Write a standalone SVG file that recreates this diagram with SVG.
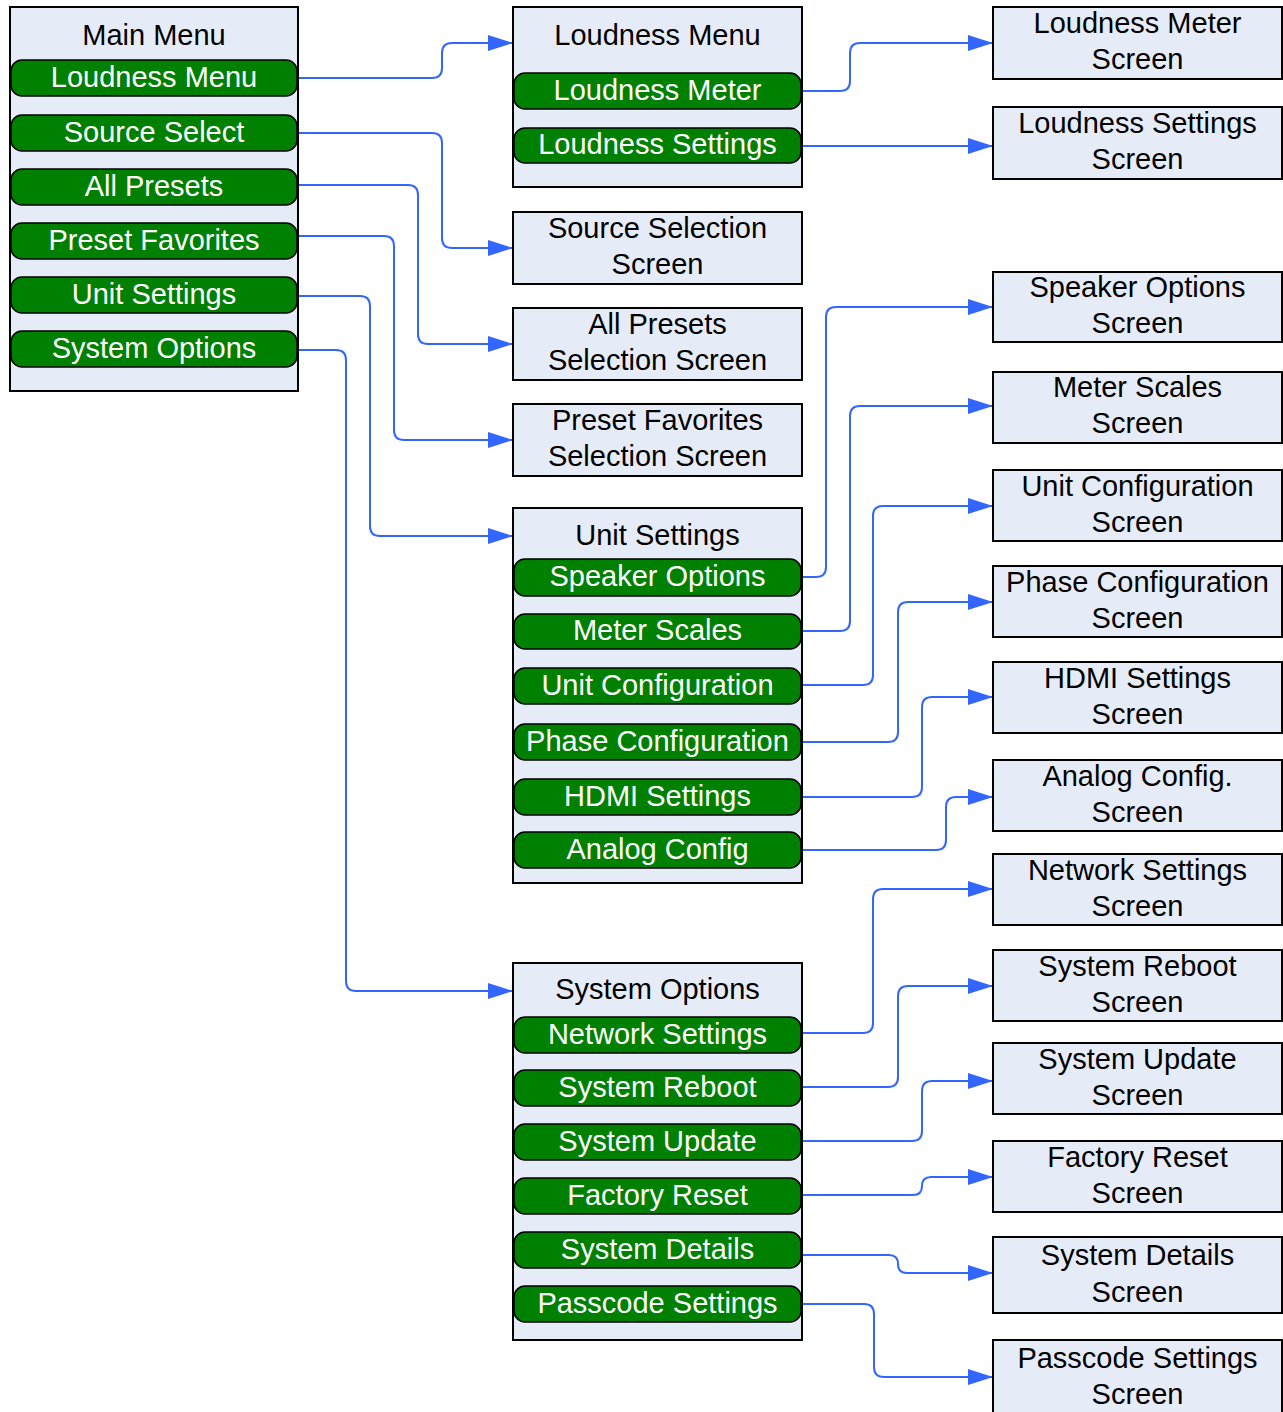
<svg xmlns="http://www.w3.org/2000/svg" width="1283" height="1412" viewBox="0 0 1283 1412">
<defs>
<style>
.box{fill:#e6ecf7;stroke:#000;stroke-width:2}
.btn{fill:#008000;stroke:#000;stroke-width:1.5}
.t{font-family:"Liberation Sans",Arial,sans-serif;font-size:29px;text-anchor:middle;fill:#000}
.bt{font-family:"Liberation Sans",Arial,sans-serif;font-size:29px;text-anchor:middle;fill:#fff}
.c{fill:none;stroke:#3366ff;stroke-width:2;marker-end:url(#ah)}
</style>
<marker id="ah" markerUnits="userSpaceOnUse" markerWidth="26" markerHeight="18" refX="25" refY="8" orient="auto">
<path d="M0,0 L25,8 L0,16 Z" fill="#3366ff"/>
</marker>
</defs>
<rect width="1283" height="1412" fill="#fff"/>

<g id="connectors">
<path class="c" d="M298,78 H432 Q442,78 442,68 V53 Q442,43 452,43 H513"/>
<path class="c" d="M298,133 H432 Q442,133 442,143 V238 Q442,248 452,248 H513"/>
<path class="c" d="M298,185 H408 Q418,185 418,195 V334 Q418,344 428,344 H513"/>
<path class="c" d="M298,236 H384 Q394,236 394,246 V430 Q394,440 404,440 H513"/>
<path class="c" d="M298,296 H360 Q370,296 370,306 V526 Q370,536 380,536 H513"/>
<path class="c" d="M298,350 H336 Q346,350 346,360 V981 Q346,991 356,991 H513"/>
<path class="c" d="M802,91 H840 Q850,91 850,81 V53 Q850,43 860,43 H993"/>
<path class="c" d="M802,146 H993"/>
<path class="c" d="M802,577 H816 Q826,577 826,567 V317 Q826,307 836,307 H993"/>
<path class="c" d="M802,631 H840 Q850,631 850,621 V416 Q850,406 860,406 H993"/>
<path class="c" d="M802,685 H863 Q873,685 873,675 V516 Q873,506 883,506 H993"/>
<path class="c" d="M802,742 H888 Q898,742 898,732 V612 Q898,602 908,602 H993"/>
<path class="c" d="M802,797 H912 Q922,797 922,787 V707 Q922,697 932,697 H993"/>
<path class="c" d="M802,850 H936 Q946,850 946,840 V807 Q946,797 956,797 H993"/>
<path class="c" d="M802,1033 H863 Q873,1033 873,1023 V899 Q873,889 883,889 H993"/>
<path class="c" d="M802,1087 H888 Q898,1087 898,1077 V996 Q898,986 908,986 H993"/>
<path class="c" d="M802,1141 H912 Q922,1141 922,1131 V1091 Q922,1081 932,1081 H993"/>
<path class="c" d="M802,1195 H913 Q922,1195 922,1186 Q922,1177 931,1177 H993"/>
<path class="c" d="M802,1255 H889 Q898,1255 898,1264 Q898,1273 907,1273 H993"/>
<path class="c" d="M802,1304 H864 Q874,1304 874,1314 V1367 Q874,1377 884,1377 H993"/>
</g>

<g id="main-menu">
<rect class="box" x="10" y="7" width="288" height="384"/>
<text class="t" x="154" y="45">Main Menu</text>
<rect class="btn" x="11" y="60" width="286" height="36" rx="11"/>
<text class="bt" x="154" y="87">Loudness Menu</text>
<rect class="btn" x="11" y="115" width="286" height="36" rx="11"/>
<text class="bt" x="154" y="142">Source Select</text>
<rect class="btn" x="11" y="169" width="286" height="36" rx="11"/>
<text class="bt" x="154" y="196">All Presets</text>
<rect class="btn" x="11" y="223" width="286" height="36" rx="11"/>
<text class="bt" x="154" y="250">Preset Favorites</text>
<rect class="btn" x="11" y="277" width="286" height="36" rx="11"/>
<text class="bt" x="154" y="304">Unit Settings</text>
<rect class="btn" x="11" y="331" width="286" height="36" rx="11"/>
<text class="bt" x="154" y="358">System Options</text>
</g>

<g id="loudness-menu">
<rect class="box" x="513" y="7" width="289" height="180"/>
<text class="t" x="657.5" y="45">Loudness Menu</text>
<rect class="btn" x="514" y="73" width="287" height="36" rx="11"/>
<text class="bt" x="657.5" y="100">Loudness Meter</text>
<rect class="btn" x="514" y="128" width="287" height="35" rx="11"/>
<text class="bt" x="657.5" y="154">Loudness Settings</text>
</g>

<g id="source-selection-screen">
<rect class="box" x="513" y="212" width="289" height="72"/>
<text class="t" x="657.5" y="238">Source Selection</text>
<text class="t" x="657.5" y="274">Screen</text>
</g>
<g id="all-presets-screen">
<rect class="box" x="513" y="308" width="289" height="72"/>
<text class="t" x="657.5" y="334">All Presets</text>
<text class="t" x="657.5" y="370">Selection Screen</text>
</g>
<g id="preset-favorites-screen">
<rect class="box" x="513" y="404" width="289" height="72"/>
<text class="t" x="657.5" y="430">Preset Favorites</text>
<text class="t" x="657.5" y="466">Selection Screen</text>
</g>

<g id="unit-settings">
<rect class="box" x="513" y="508" width="289" height="375"/>
<text class="t" x="657.5" y="545">Unit Settings</text>
<rect class="btn" x="514" y="559" width="287" height="37" rx="11"/>
<text class="bt" x="657.5" y="586">Speaker Options</text>
<rect class="btn" x="514" y="614" width="287" height="35" rx="11"/>
<text class="bt" x="657.5" y="640">Meter Scales</text>
<rect class="btn" x="514" y="668" width="287" height="36" rx="11"/>
<text class="bt" x="657.5" y="695">Unit Configuration</text>
<rect class="btn" x="514" y="724" width="287" height="36" rx="11"/>
<text class="bt" x="657.5" y="751">Phase Configuration</text>
<rect class="btn" x="514" y="779" width="287" height="36" rx="11"/>
<text class="bt" x="657.5" y="806">HDMI Settings</text>
<rect class="btn" x="514" y="832" width="287" height="36" rx="11"/>
<text class="bt" x="657.5" y="859">Analog Config</text>
</g>

<g id="system-options">
<rect class="box" x="513" y="963" width="289" height="377"/>
<text class="t" x="657.5" y="999">System Options</text>
<rect class="btn" x="514" y="1017" width="287" height="36" rx="11"/>
<text class="bt" x="657.5" y="1044">Network Settings</text>
<rect class="btn" x="514" y="1070" width="287" height="36" rx="11"/>
<text class="bt" x="657.5" y="1097">System Reboot</text>
<rect class="btn" x="514" y="1124" width="287" height="36" rx="11"/>
<text class="bt" x="657.5" y="1151">System Update</text>
<rect class="btn" x="514" y="1178" width="287" height="36" rx="11"/>
<text class="bt" x="657.5" y="1205">Factory Reset</text>
<rect class="btn" x="514" y="1232" width="287" height="36" rx="11"/>
<text class="bt" x="657.5" y="1259">System Details</text>
<rect class="btn" x="514" y="1286" width="287" height="36" rx="11"/>
<text class="bt" x="657.5" y="1313">Passcode Settings</text>
</g>

<g id="loudness-meter-screen">
<rect class="box" x="993" y="7" width="289" height="72"/>
<text class="t" x="1137.5" y="33">Loudness Meter</text>
<text class="t" x="1137.5" y="69">Screen</text>
</g>
<g id="loudness-settings-screen">
<rect class="box" x="993" y="107" width="289" height="72"/>
<text class="t" x="1137.5" y="133">Loudness Settings</text>
<text class="t" x="1137.5" y="169">Screen</text>
</g>
<g id="speaker-options-screen">
<rect class="box" x="993" y="272" width="289" height="70"/>
<text class="t" x="1137.5" y="297">Speaker Options</text>
<text class="t" x="1137.5" y="333">Screen</text>
</g>
<g id="meter-scales-screen">
<rect class="box" x="993" y="372" width="289" height="71"/>
<text class="t" x="1137.5" y="397">Meter Scales</text>
<text class="t" x="1137.5" y="433">Screen</text>
</g>
<g id="unit-configuration-screen">
<rect class="box" x="993" y="470" width="289" height="71"/>
<text class="t" x="1137.5" y="496">Unit Configuration</text>
<text class="t" x="1137.5" y="532">Screen</text>
</g>
<g id="phase-configuration-screen">
<rect class="box" x="993" y="566" width="289" height="71"/>
<text class="t" x="1137.5" y="592">Phase Configuration</text>
<text class="t" x="1137.5" y="628">Screen</text>
</g>
<g id="hdmi-settings-screen">
<rect class="box" x="993" y="662" width="289" height="71"/>
<text class="t" x="1137.5" y="688">HDMI Settings</text>
<text class="t" x="1137.5" y="724">Screen</text>
</g>
<g id="analog-config-screen">
<rect class="box" x="993" y="760" width="289" height="71"/>
<text class="t" x="1137.5" y="786">Analog Config.</text>
<text class="t" x="1137.5" y="822">Screen</text>
</g>
<g id="network-settings-screen">
<rect class="box" x="993" y="854" width="289" height="71"/>
<text class="t" x="1137.5" y="880">Network Settings</text>
<text class="t" x="1137.5" y="916">Screen</text>
</g>
<g id="system-reboot-screen">
<rect class="box" x="993" y="950" width="289" height="71"/>
<text class="t" x="1137.5" y="976">System Reboot</text>
<text class="t" x="1137.5" y="1012">Screen</text>
</g>
<g id="system-update-screen">
<rect class="box" x="993" y="1043" width="289" height="71"/>
<text class="t" x="1137.5" y="1069">System Update</text>
<text class="t" x="1137.5" y="1105">Screen</text>
</g>
<g id="factory-reset-screen">
<rect class="box" x="993" y="1141" width="289" height="71"/>
<text class="t" x="1137.5" y="1167">Factory Reset</text>
<text class="t" x="1137.5" y="1203">Screen</text>
</g>
<g id="system-details-screen">
<rect class="box" x="993" y="1237" width="289" height="76"/>
<text class="t" x="1137.5" y="1265">System Details</text>
<text class="t" x="1137.5" y="1302">Screen</text>
</g>
<g id="passcode-settings-screen">
<rect class="box" x="993" y="1340" width="289" height="80"/>
<text class="t" x="1137.5" y="1368">Passcode Settings</text>
<text class="t" x="1137.5" y="1404">Screen</text>
</g>
</svg>
